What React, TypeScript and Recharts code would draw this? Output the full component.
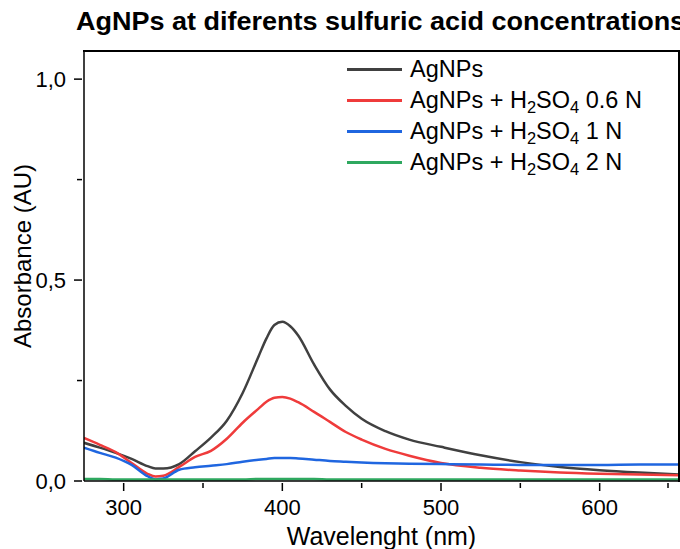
import React from 'react';
import { Line, LineChart, XAxis, YAxis } from 'recharts';

const wavelengths = [
  275, 285, 295, 305, 315, 320, 325, 335, 345, 355, 365, 375, 385, 390, 395, 400, 405, 410, 420, 430,
  440, 450, 465, 480, 500, 525, 550, 575, 600, 625, 650,
];

const agnps = [
  0.095, 0.083, 0.07, 0.055, 0.037, 0.031, 0.031, 0.042, 0.074, 0.108, 0.15, 0.219, 0.31, 0.355, 0.388,
  0.396, 0.385, 0.362, 0.29, 0.228, 0.187, 0.155, 0.124, 0.103, 0.085, 0.064, 0.047, 0.035, 0.027, 0.021,
  0.016,
];

const acid06 = [
  0.107, 0.09, 0.072, 0.045, 0.018, 0.011, 0.013, 0.035, 0.06, 0.075, 0.105, 0.145, 0.18, 0.197, 0.207,
  0.209, 0.205, 0.196, 0.172, 0.147, 0.122, 0.103, 0.08, 0.063, 0.045, 0.033, 0.026, 0.021, 0.018, 0.016,
  0.014,
];

const acid1 = [
  0.083, 0.07, 0.058, 0.04, 0.012, 0.004, 0.006, 0.028, 0.034, 0.038, 0.042, 0.048, 0.053, 0.055, 0.057,
  0.057, 0.057, 0.056, 0.053, 0.05, 0.048, 0.046, 0.044, 0.043, 0.042, 0.041, 0.04, 0.04, 0.04, 0.041,
  0.041,
];

const acid2 = [
  0.005, 0.005, 0.004, 0.004, 0.004, 0.004, 0.004, 0.004, 0.004, 0.004, 0.004, 0.004, 0.005, 0.005, 0.005,
  0.005, 0.005, 0.005, 0.005, 0.004, 0.004, 0.004, 0.004, 0.004, 0.004, 0.004, 0.004, 0.004, 0.004, 0.004,
  0.004,
];

const xTicks = [300, 350, 400, 450, 500, 550, 600, 650];
const yTicks = [0, 0.25, 0.5, 0.75, 1.0];

const series = [
  { key: 'agnps', name: 'AgNPs', color: '#404040' },
  { key: 'acid06', name: 'AgNPs + H2SO4 0.6 N', color: '#ef3b3b' },
  { key: 'acid1', name: 'AgNPs + H2SO4 1 N', color: '#1f66e0' },
  { key: 'acid2', name: 'AgNPs + H2SO4 2 N', color: '#2ea85f' },
];

const FONT = '"Liberation Sans", Arial, sans-serif';
const X_MIN = 275;
const X_MAX = 650;
const Y_MAX = 1.07;

const data = wavelengths.map((w, i) => ({
  w,
  agnps: agnps[i],
  acid06: acid06[i],
  acid1: acid1[i],
  acid2: acid2[i],
}));

function XTick(props: any) {
  const { x, y, payload } = props;
  const major = payload.value % 100 === 0;
  return (
    <g>
      <line x1={x} y1={y} x2={x} y2={y + (major ? 8 : 5)} stroke="#000" strokeWidth={1.5} />
      {major && (
        <text x={x} y={y + 32} textAnchor="middle" fontSize={22} fontFamily={FONT} fill="#000">
          {payload.value}
        </text>
      )}
    </g>
  );
}

function YTick(props: any) {
  const { x, y, payload } = props;
  const major = Math.abs((payload.value * 2) % 1) < 1e-6;
  return (
    <g>
      <line x1={x} y1={y} x2={x - (major ? 8 : 5)} y2={y} stroke="#000" strokeWidth={1.5} />
      {major && (
        <text x={x - 16} y={y + 8} textAnchor="end" fontSize={22} fontFamily={FONT} fill="#000">
          {payload.value.toFixed(1).replace('.', ',')}
        </text>
      )}
    </g>
  );
}

function renderName(name: string) {
  const m = name.match(/^(.*)H2SO4(.*)$/);
  if (!m) return name;
  const sub = { fontSize: '0.7em', verticalAlign: '-0.3em', lineHeight: 0 };
  return (
    <>
      {m[1]}H<span style={sub}>2</span>SO<span style={sub}>4</span>
      {m[2]}
    </>
  );
}

function LegendBox() {
  return (
    <div
      style={{
        position: 'absolute',
        left: 347,
        top: 54,
        fontFamily: FONT,
        fontSize: 23.5,
        color: '#000',
        lineHeight: '31px',
      }}
    >
      {series.map((s) => (
        <div key={s.key} style={{ display: 'flex', alignItems: 'center', height: 31 }}>
          <span style={{ display: 'inline-block', width: 55, height: 3, background: s.color, marginRight: 8 }} />
          <span style={{ whiteSpace: 'nowrap' }}>{renderName(s.name)}</span>
        </div>
      ))}
    </div>
  );
}

export default function App() {
  return (
    <div
      style={{
        position: 'absolute',
        left: 0,
        top: 0,
        width: 680,
        height: 549,
        overflow: 'hidden',
        background: '#fff',
      }}
    >
      <div
        style={{
          position: 'absolute',
          left: 76,
          top: 7,
          fontFamily: FONT,
          fontWeight: 'bold',
          fontSize: 25,
          whiteSpace: 'nowrap',
          color: '#000',
          transform: 'scaleX(1.08)',
          transformOrigin: 'left top',
        }}
      >
        AgNPs at diferents sulfuric acid concentrations
      </div>
      <LineChart width={680} height={549} data={data} margin={{ top: 51, right: 1, bottom: 0, left: 0 }}>
        <XAxis
          dataKey="w"
          type="number"
          domain={[X_MIN, X_MAX]}
          ticks={xTicks}
          allowDataOverflow
          height={68}
          tickSize={0}
          tickLine={false}
          tick={<XTick />}
          axisLine={{ stroke: '#000', strokeWidth: 1.5 }}
          label={{
            value: 'Wavelenght (nm)',
            position: 'insideBottom',
            offset: 4,
            fontSize: 25,
            fontFamily: FONT,
            fill: '#000',
          }}
        />
        <YAxis
          type="number"
          domain={[0, Y_MAX]}
          ticks={yTicks}
          allowDataOverflow
          width={84}
          tickSize={0}
          tickLine={false}
          tick={<YTick />}
          axisLine={{ stroke: '#000', strokeWidth: 1.5 }}
          label={{
            value: 'Absorbance (AU)',
            angle: -90,
            position: 'center',
            dx: -20,
            dy: -10,
            fontSize: 24,
            fontFamily: FONT,
            fill: '#000',
          }}
        />
        {series.map((s) => (
          <Line
            key={s.key}
            type="monotone"
            dataKey={s.key}
            name={s.name}
            stroke={s.color}
            strokeWidth={2.5}
            dot={false}
            isAnimationActive={false}
          />
        ))}
      </LineChart>
      {/* plot frame: top and right edges */}
      <div
        style={{
          position: 'absolute',
          left: 83,
          top: 50,
          width: 595,
          height: 430,
          borderTop: '2px solid #000',
          borderRight: '2px solid #000',
          boxSizing: 'content-box',
          pointerEvents: 'none',
          zIndex: 5,
        }}
      />
      <LegendBox />
    </div>
  );
}
